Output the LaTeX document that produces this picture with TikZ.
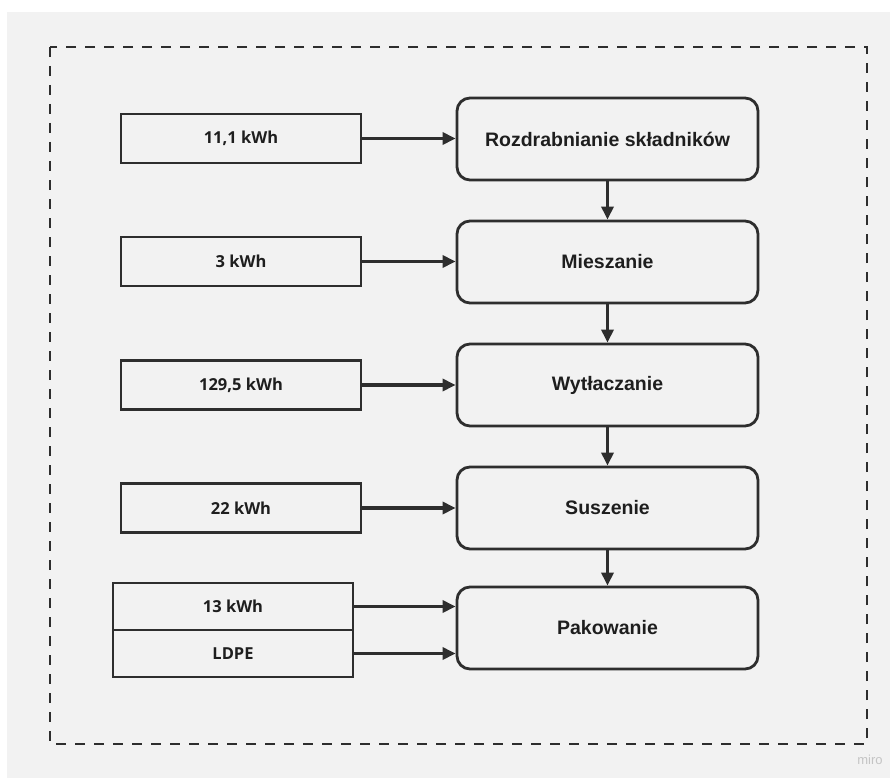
\documentclass[tikz,border=0pt]{standalone}
\usepackage{fontspec}
\setmainfont{Liberation Sans}
\newfontfamily\opensans{Open Sans}
\usetikzlibrary{arrows.meta}
\definecolor{bggray}{HTML}{F2F2F2}
\definecolor{linec}{HTML}{2E2E2E}
\definecolor{textc}{HTML}{1E1E1E}
\definecolor{mirogray}{HTML}{C4C4C4}
\tikzset{
  procbox/.style={draw=linec, line width=2.8pt, rounded corners=13pt, minimum width=301pt, minimum height=82pt, inner sep=0pt, text=textc, font=\fontsize{19.5}{22}\selectfont\bfseries},
  inbox/.style={draw=linec, line width=2.8pt, minimum width=240pt, minimum height=49pt, inner sep=0pt, text=textc, font=\opensans\fontsize{16.5}{19}\selectfont\bfseries},
  inboxs/.style={inbox, minimum height=47pt},
  flow/.style={draw=linec, line width=3.2pt, -{Triangle[length=13pt,width=12pt]}},
  frame/.style={draw=linec, line width=2.6pt, dash pattern=on 10pt off 9pt}
}
\begin{document}
\begin{tikzpicture}[x=1pt,y=-1pt]
\useasboundingbox (0,0) rectangle (890,778);
\fill[white] (0,0) rectangle (890,778);
\fill[bggray] (7,12) rectangle (890,778);
\draw[frame] (50,47) rectangle (867,744);

\node[procbox] (p1) at (607.5,139) {Rozdrabnianie składników};
\node[procbox] (p2) at (607.5,262) {Mieszanie};
\node[procbox] (p3) at (607.5,385) {Wytłaczanie};
\node[procbox] (p4) at (607.5,508) {Suszenie};
\node[procbox] (p5) at (607.5,628) {Pakowanie};

\node[inbox] (e1) at (241,138.5) {11,1 kWh};
\node[inbox] (e2) at (241,261.5) {3 kWh};
\node[inbox] (e3) at (241,385) {129,5 kWh};
\node[inbox] (e4) at (241,508) {22 kWh};
\node[inboxs] (e5) at (233,606.5) {13 kWh};
\node[inboxs] (e6) at (233,653.5) {LDPE};

\draw[flow] (e1.east) -- (e1.east -| p1.west);
\draw[flow] (e2.east) -- (e2.east -| p2.west);
\draw[flow] (e3.east) -- (e3.east -| p3.west);
\draw[flow] (e4.east) -- (e4.east -| p4.west);
\draw[flow] (e5.east) -- (e5.east -| p5.west);
\draw[flow] (e6.east) -- (e6.east -| p5.west);

\draw[flow] (p1) -- (p2);
\draw[flow] (p2) -- (p3);
\draw[flow] (p3) -- (p4);
\draw[flow] (p4) -- (p5);

\node[text=mirogray, font=\fontsize{13}{14}\selectfont] (miro) at (870,760) {miro};
\end{tikzpicture}
\end{document}
